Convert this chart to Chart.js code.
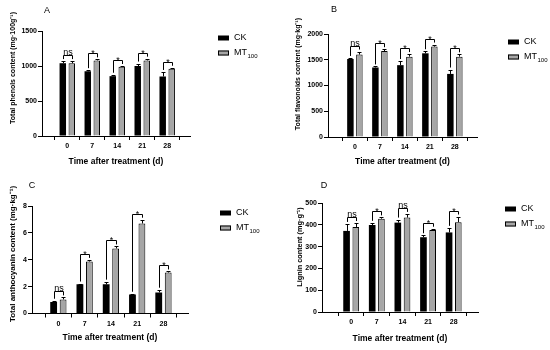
<!DOCTYPE html>
<html>
<head>
<meta charset="utf-8">
<script src="https://cdn.jsdelivr.net/npm/chart.js@4.4.0/dist/chart.umd.min.js"></script>
<style>
  body { margin: 0; background: #fff; }
  #wrap { position: relative; width: 550px; height: 350px; }
  canvas { position: absolute; }
</style>
</head>
<body>
<div id="wrap">
  <canvas id="panelA" width="275" height="175" style="left:0;top:0"></canvas>
  <canvas id="panelB" width="275" height="175" style="left:275px;top:0"></canvas>
  <canvas id="panelC" width="275" height="175" style="left:0;top:175px"></canvas>
  <canvas id="panelD" width="275" height="175" style="left:275px;top:175px"></canvas>
</div>
<script>
// Categories (days after treatment)
const days = ['0', '7', '14', '21', '28'];
const seriesNames = ['CK', 'MT'];

// A: total phenols
const phenolsCK = [1040, 925, 855, 1000, 850];
const phenolsCKErr = [30, 15, 20, 35, 65];
const phenolsMT = [1040, 1080, 990, 1080, 960];
const phenolsMTErr = [30, 15, 10, 25, 15];
const phenolsSig = ['ns', '*', '*', '*', '*'];
const phenolsTicks = [0, 500, 1000, 1500];

// B: total flavonoids
const flavCK = [1515, 1350, 1395, 1625, 1225];
const flavCKErr = [20, 20, 80, 40, 85];
const flavMT = [1600, 1670, 1560, 1755, 1560];
const flavMTErr = [60, 35, 50, 40, 45];
const flavSig = ['ns', '*', '*', '*', '*'];
const flavTicks = [0, 500, 1000, 1500, 2000];

// C: total anthocyanin
const anthoCK = [0.85, 2.18, 2.17, 1.42, 1.57];
const anthoCKErr = [0.1, 0.05, 0.2, 0.05, 0.2];
const anthoMT = [1.05, 3.87, 4.84, 6.7, 3.05];
const anthoMTErr = [0.15, 0.12, 0.15, 0.28, 0.08];
const anthoSig = ['ns', '*', '*', '*', '*'];
const anthoTicks = [0, 2, 4, 6, 8];

// D: lignin
const ligninCK = [372, 399, 410, 343, 365];
const ligninCKErr = [32, 10, 14, 9, 21];
const ligninMT = [390, 428, 433, 376, 412];
const ligninMTErr = [18, 6, 17, 6, 26];
const ligninSig = ['ns', '*', 'ns', '*', '*'];
const ligninTicks = [0, 100, 200, 300, 400, 500];

const FONT = "'Liberation Sans', Arial, sans-serif";
const CK_COLOR = '#000000';
const MT_COLOR = '#a6a6a6';

// Panel layout (pixel positions inside each 275x175 canvas)
const panels = [
  { id: 'panelA', letter: 'A', yTitle: 'Total phenols content (mg·100g⁻¹)',
    ck: phenolsCK, ckErr: phenolsCKErr, mt: phenolsMT, mtErr: phenolsMTErr, sig: phenolsSig, ticks: phenolsTicks,
    left: 42, right: 190, top: 31, bottom: 136, xMin: -0.42, xMax: 4.32,
    yTitleX: 13, yTitleY: 68, yTitleSize: 7, legendX: 218, legendY: 38, letterX: 47, letterY: 11, xTitlePad: 8 },
  { id: 'panelB', letter: 'B', yTitle: 'Total flavonoids content (mg·kg⁻¹)',
    ck: flavCK, ckErr: flavCKErr, mt: flavMT, mtErr: flavMTErr, sig: flavSig, ticks: flavTicks,
    left: 53, right: 202, top: 34, bottom: 137, xMin: -0.48, xMax: 4.29,
    yTitleX: 23, yTitleY: 74, yTitleSize: 7, legendX: 233, legendY: 42, letterX: 59, letterY: 10, xTitlePad: 8 },
  { id: 'panelC', letter: 'C', yTitle: 'Total anthocyanin content (mg·kg⁻¹)',
    ck: anthoCK, ckErr: anthoCKErr, mt: anthoMT, mtErr: anthoMTErr, sig: anthoSig, ticks: anthoTicks,
    left: 32, right: 188, top: 31, bottom: 138.5, xMin: -0.41, xMax: 4.34,
    yTitleX: 13, yTitleY: 79, yTitleSize: 8, legendX: 220, legendY: 38, letterX: 32, letterY: 11, xTitlePad: 7 },
  { id: 'panelD', letter: 'D', yTitle: 'Lignin content (mg·g⁻¹)',
    ck: ligninCK, ckErr: ligninCKErr, mt: ligninMT, mtErr: ligninMTErr, sig: ligninSig, ticks: ligninTicks,
    left: 47, right: 203, top: 28, bottom: 137, xMin: -0.53, xMax: 4.34,
    yTitleX: 25, yTitleY: 72, yTitleSize: 7.3, legendX: 230, legendY: 34, letterX: 49, letterY: 11, xTitlePad: 6 }
];

// Error bars, significance brackets, legend, y title and panel letter
const annotPlugin = {
  id: 'annot',
  afterDatasetsDraw(chart, args, opts) {
    const p = opts.panel;
    const ctx = chart.ctx;
    const yScale = chart.scales.y;
    const ds = chart.data.datasets;
    const metas = [chart.getDatasetMeta(0), chart.getDatasetMeta(1)];
    ctx.save();
    ctx.strokeStyle = '#000';
    ctx.lineWidth = 1;

    // error bars (upper only)
    metas.forEach((meta, d) => {
      meta.data.forEach((bar, i) => {
        const top = yScale.getPixelForValue(ds[d].data[i].y + ds[d].errors[i]);
        const x = Math.round(bar.x) + 0.5;
        const yt = Math.round(top) + 0.5;
        ctx.beginPath();
        ctx.moveTo(x, bar.y);
        ctx.lineTo(x, yt);
        ctx.moveTo(x - 2, yt);
        ctx.lineTo(x + 2, yt);
        ctx.stroke();
      });
    });

    // brackets
    metas[0].data.forEach((ckBar, i) => {
      const mtBar = metas[1].data[i];
      const ckTop = yScale.getPixelForValue(ds[0].data[i].y + ds[0].errors[i]);
      const mtTop = yScale.getPixelForValue(ds[1].data[i].y + ds[1].errors[i]);
      const level = Math.round(Math.min(ckTop, mtTop) - 6) + 0.5;
      const x1 = Math.round(ckBar.x) + 0.5, x2 = Math.round(mtBar.x) + 0.5;
      ctx.beginPath();
      ctx.moveTo(x1, ckTop - 2);
      ctx.lineTo(x1, level);
      ctx.lineTo(x2, level);
      ctx.lineTo(x2, mtTop - 2);
      ctx.stroke();
      ctx.fillStyle = '#000';
      ctx.textAlign = 'center';
      ctx.textBaseline = 'alphabetic';
      ctx.font = '9px ' + FONT;
      const label = p.sig[i];
      ctx.fillText(label, (x1 + x2) / 2, label === '*' ? level + 2.5 : level - 1);
    });

    // legend
    const lx = p.legendX, ly = p.legendY;
    ctx.fillStyle = CK_COLOR;
    ctx.fillRect(lx, ly - 2.5, 11, 5);
    ctx.fillStyle = MT_COLOR;
    ctx.fillRect(lx, ly + 15 - 2.5, 11, 5);
    ctx.strokeRect(lx + 0.5, ly + 15 - 2, 10, 4);
    ctx.fillStyle = '#000';
    ctx.textAlign = 'left';
    ctx.textBaseline = 'middle';
    ctx.font = '9px ' + FONT;
    ctx.fillText(seriesNames[0], lx + 16, ly);
    ctx.fillText(seriesNames[1], lx + 16, ly + 15);
    const w = ctx.measureText(seriesNames[1]).width;
    ctx.font = '6px ' + FONT;
    ctx.fillText('100', lx + 16 + w + 0.5, ly + 18);

    // panel letter
    ctx.font = '9px ' + FONT;
    ctx.textAlign = 'center';
    ctx.fillText(p.letter, p.letterX, p.letterY);

    // y title
    ctx.translate(p.yTitleX, p.yTitleY);
    ctx.rotate(-Math.PI / 2);
    ctx.font = 'bold ' + p.yTitleSize + 'px ' + FONT;
    ctx.fillText(p.yTitle, 0, 0);
    ctx.restore();
  }
};

function makeChart(p) {
  const ctx = document.getElementById(p.id).getContext('2d');
  const toPoints = (arr) => arr.map((v, i) => ({ x: i, y: v }));
  return new Chart(ctx, {
    type: 'bar',
    data: {
      datasets: [
        { label: 'CK', data: toPoints(p.ck), errors: p.ckErr,
          backgroundColor: CK_COLOR, borderColor: '#000', borderWidth: 0 },
        { label: 'MT100', data: toPoints(p.mt), errors: p.mtErr,
          backgroundColor: MT_COLOR, borderColor: '#000', borderWidth: 1 }
      ]
    },
    options: {
      responsive: false,
      animation: false,
      categoryPercentage: 0.72,
      barPercentage: 0.72,
      layout: { padding: { left: 0, top: p.top, right: 275 - p.right, bottom: 0 } },
      plugins: {
        legend: { display: false },
        tooltip: { enabled: false },
        annot: { panel: p }
      },
      scales: {
        x: {
          type: 'linear',
          min: p.xMin,
          max: p.xMax,
          afterFit: (s) => { s.height = 175 - p.bottom; },
          grid: { display: true, drawOnChartArea: false, drawTicks: true, tickLength: 4, color: '#000' },
          border: { display: true, color: '#000', width: 1 },
          ticks: {
            stepSize: 1,
            includeBounds: false,
            autoSkip: false,
            maxRotation: 0,
            padding: 2,
            color: '#000',
            font: { family: FONT, size: 7, weight: 'bold' },
            callback: (v) => (Number.isInteger(v) ? days[v] : '')
          },
          title: {
            display: true,
            text: 'Time after treatment (d)',
            color: '#000',
            font: { family: FONT, size: 8.5, weight: 'bold' },
            padding: { top: 0, bottom: p.xTitlePad }
          }
        },
        y: {
          min: 0,
          max: p.ticks[p.ticks.length - 1],
          afterFit: (s) => { s.width = p.left; },
          afterBuildTicks: (s) => { s.ticks = p.ticks.map((v) => ({ value: v })); },
          grid: { display: true, drawOnChartArea: false, drawTicks: true, tickLength: 4, color: '#000' },
          border: { display: true, color: '#000', width: 1 },
          ticks: {
            padding: 1,
            color: '#000',
            font: { family: FONT, size: 7, weight: 'bold' },
            callback: (v) => String(v)
          }
        }
      }
    },
    plugins: [annotPlugin]
  });
}

panels.forEach(makeChart);
</script>
</body>
</html>
